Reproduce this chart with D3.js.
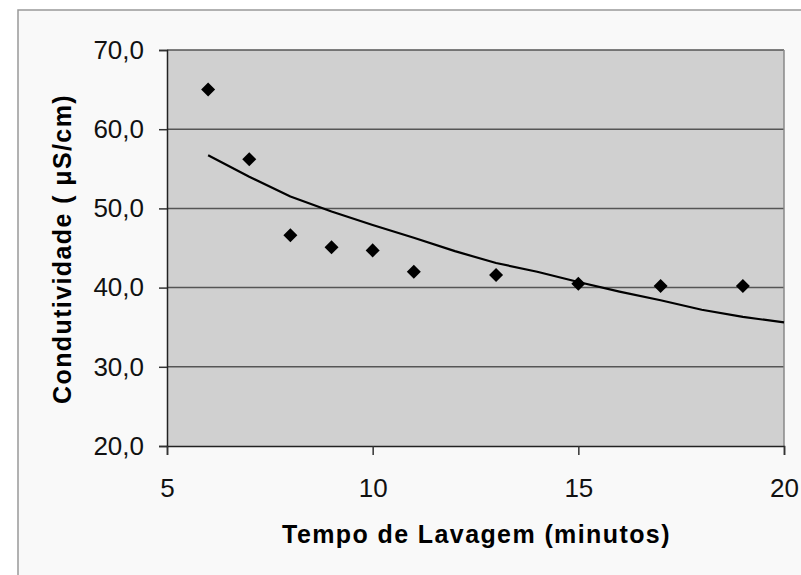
<!DOCTYPE html>
<html>
<head>
<meta charset="utf-8">
<script src="https://cdn.jsdelivr.net/npm/d3@7"></script>
<style>
  body { margin: 0; background: #fff; }
  svg { display: block; }
</style>
</head>
<body>
<div id="chart"></div>
<script>
// measured values
var tempo = [6, 7, 8, 9, 10, 11, 13, 15, 17, 19];
var condutividade = [65.0, 56.2, 46.6, 45.1, 44.7, 42.0, 41.6, 40.5, 40.2, 40.2];

// trend line
var trendX = [6, 7, 8, 9, 10, 11, 12, 13, 14, 15, 16, 17, 18, 19, 20];
var trendY = [56.7, 54.0, 51.5, 49.6, 47.9, 46.3, 44.6, 43.1, 42.0, 40.7, 39.5, 38.4, 37.2, 36.3, 35.6];

var xTicks = [5, 10, 15, 20];
var yTicks = [20, 30, 40, 50, 60, 70];

var width = 801, height = 575;
var plotL = 167, plotR = 784, plotT = 50, plotB = 446;

var svg = d3.select("#chart").append("svg")
    .attr("width", width)
    .attr("height", height);

// chart frame
svg.append("rect")
    .attr("x", 18).attr("y", 10)
    .attr("width", width).attr("height", height)
    .attr("fill", "#f9f9f9")
    .attr("stroke", "#999")
    .attr("stroke-width", 1.5);

var x = d3.scaleLinear().domain([5, 20]).range([plotL, plotR]);
var y = d3.scaleLinear().domain([20, 70]).range([plotB, plotT]);

svg.append("rect")
    .attr("x", plotL).attr("y", plotT)
    .attr("width", plotR - plotL).attr("height", plotB - plotT)
    .attr("fill", "#d0d0d0");

// gridlines
svg.append("g").selectAll("line")
    .data(yTicks.slice(1))
    .enter().append("line")
    .attr("x1", plotL).attr("x2", plotR)
    .attr("y1", function(d){ return y(d); })
    .attr("y2", function(d){ return y(d); })
    .attr("stroke", "#555")
    .attr("stroke-width", 1.5);

// right border
svg.append("line")
    .attr("x1", plotR).attr("x2", plotR)
    .attr("y1", plotT).attr("y2", plotB)
    .attr("stroke", "#888").attr("stroke-width", 1.5);

var yAxis = svg.append("g")
    .attr("transform", "translate(" + plotL + ",0)")
    .call(d3.axisLeft(y).tickValues(yTicks).tickSize(8).tickPadding(15)
        .tickFormat(function(d){ return d.toFixed(1).replace(".", ","); }));

var xAxis = svg.append("g")
    .attr("transform", "translate(0," + plotB + ")")
    .call(d3.axisBottom(x).tickValues(xTicks).tickSize(9).tickPadding(24)
        .tickFormat(d3.format("d")));

[yAxis, xAxis].forEach(function(ax){
    ax.select(".domain").attr("stroke", "#222").attr("stroke-width", 1.5);
    ax.selectAll(".tick line").attr("stroke", "#333").attr("stroke-width", 1.5);
    ax.selectAll("text")
      .attr("font-family", "Liberation Sans, Arial, sans-serif")
      .attr("font-size", 26)
      .attr("fill", "#111");
});

// trend line
var line = d3.line()
    .x(function(d, i){ return x(trendX[i]); })
    .y(function(d){ return y(d); });

svg.append("path")
    .datum(trendY)
    .attr("d", line)
    .attr("fill", "none")
    .attr("stroke", "#000")
    .attr("stroke-width", 2.2)
    .attr("stroke-linejoin", "round");

// points
svg.append("g").selectAll("path")
    .data(tempo)
    .enter().append("path")
    .attr("d", d3.symbol(d3.symbolDiamond2, 125))
    .attr("transform", function(d, i){
        return "translate(" + x(d) + "," + y(condutividade[i]) + ")";
    })
    .attr("fill", "#000");

// axis titles
svg.append("text")
    .attr("x", (plotL + plotR) / 2 + 1)
    .attr("y", 543)
    .attr("text-anchor", "middle")
    .attr("font-family", "Liberation Sans, Arial, sans-serif")
    .attr("font-weight", "bold")
    .attr("font-size", 25)
    .attr("letter-spacing", 1.4)
    .text("Tempo de Lavagem (minutos)");

svg.append("text")
    .attr("transform", "translate(71," + ((plotT + plotB) / 2 + 1) + ") rotate(-90)")
    .attr("text-anchor", "middle")
    .attr("font-family", "Liberation Sans, Arial, sans-serif")
    .attr("font-weight", "bold")
    .attr("font-size", 25)
    .attr("letter-spacing", 1.4)
    .text("Condutividade ( \u03bcS/cm)");
</script>
</body>
</html>
